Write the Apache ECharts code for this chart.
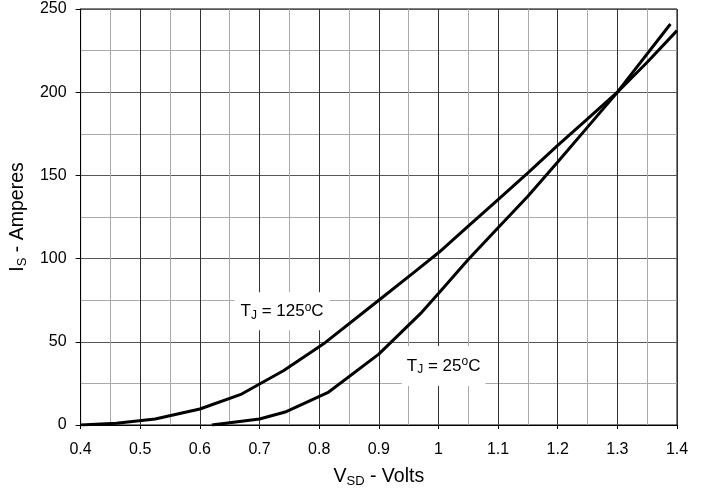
<!DOCTYPE html>
<html>
<head>
<meta charset="utf-8">
<script src="https://cdn.jsdelivr.net/npm/echarts@6/dist/echarts.min.js"></script>
<style>
  html, body { margin: 0; padding: 0; background: #fff; }
  #chart { width: 709px; height: 493px; }
</style>
</head>
<body>
<div id="chart"></div>
<script>
// Source-drain diode forward characteristic: Is versus Vsd at two junction temperatures
const vsd125 = [0.4, 0.46, 0.525, 0.6, 0.67, 0.74, 0.81, 0.9, 0.96, 1.0, 1.05, 1.1, 1.15, 1.2, 1.25, 1.3, 1.35, 1.4];
const is125  = [0, 1, 3.6, 9.6, 18.6, 32.6, 49.5, 75, 92, 103.5, 119.5, 135.5, 151.5, 168, 184, 200, 218, 237];

const vsd25 = [0.62, 0.7, 0.743, 0.816, 0.9, 0.972, 1.0, 1.05, 1.1, 1.15, 1.2, 1.25, 1.3, 1.389];
const is25  = [0, 3.6, 7.8, 19.8, 42.6, 67.7, 79, 99.5, 118.5, 137.5, 158, 179, 200, 241];

const xTicks = [0.4, 0.5, 0.6, 0.7, 0.8, 0.9, 1.0, 1.1, 1.2, 1.3, 1.4];
const yTicks = [0, 50, 100, 150, 200, 250];

const FONT = '"Liberation Sans", Arial, Helvetica, sans-serif';

const pairs = (xs, ys) => xs.map((x, i) => [x, ys[i]]);

const textRich = {
  t: { fontFamily: FONT, fontSize: 17, color: '#000', lineHeight: 20, verticalAlign: 'middle' },
  s: { fontFamily: FONT, fontSize: 12, color: '#000', lineHeight: 12, verticalAlign: 'bottom' },
  p: { fontFamily: FONT, fontSize: 12, color: '#000', lineHeight: 12, verticalAlign: 'top' }
};

const nameRich = {
  a: { fontFamily: FONT, fontSize: 19.5, color: '#000', lineHeight: 22, verticalAlign: 'middle' },
  b: { fontFamily: FONT, fontSize: 13, color: '#000', lineHeight: 13, verticalAlign: 'bottom' }
};

function tempLabel(coord, text, pad) {
  return {
    symbol: 'rect',
    symbolSize: 0,
    silent: true,
    data: [{ coord: coord }],
    label: {
      show: true,
      position: 'inside',
      formatter: text,
      backgroundColor: '#fff',
      padding: pad,
      rich: textRich
    }
  };
}

const chart = echarts.init(document.getElementById('chart'), null, { renderer: 'canvas' });

chart.setOption({
  animation: false,
  backgroundColor: '#fff',
  grid: {
    left: 78, right: 32, top: 9, bottom: 67,
    show: true, borderColor: '#000', borderWidth: 1, backgroundColor: 'transparent'
  },
  xAxis: {
    type: 'value',
    min: xTicks[0],
    max: xTicks[xTicks.length - 1],
    interval: 0.1,
    name: '{a|V}{b|SD}{a| - Volts}',
    nameLocation: 'middle',
    nameGap: 41,
    nameTextStyle: { rich: nameRich },
    axisLine: { show: true, onZero: false, lineStyle: { color: '#000', width: 1 } },
    axisTick: { show: true, length: 4, lineStyle: { color: '#000' } },
    axisLabel: {
      margin: 17,
      color: '#000',
      fontFamily: FONT,
      fontSize: 16,
      formatter: v => String(Math.round(v * 10) / 10)
    },
    splitLine: { show: true, lineStyle: { color: '#333', width: 1 } },
    minorTick: { show: false, splitNumber: 2 },
    minorSplitLine: { show: true, lineStyle: { color: '#aaa', width: 1 } }
  },
  yAxis: {
    type: 'value',
    min: yTicks[0],
    max: yTicks[yTicks.length - 1],
    interval: 50,
    name: '{a|I}{b|S}{a| - Amperes}',
    nameLocation: 'middle',
    nameGap: 49,
    nameTextStyle: { rich: nameRich },
    axisLine: { show: true, lineStyle: { color: '#000', width: 1 } },
    axisTick: { show: true, length: 5, lineStyle: { color: '#000' } },
    axisLabel: { margin: 14, color: '#000', fontFamily: FONT, fontSize: 16 },
    splitLine: { show: true, lineStyle: { color: '#555', width: 1 } },
    minorTick: { show: false, splitNumber: 2 },
    minorSplitLine: { show: true, lineStyle: { color: '#aaa', width: 1 } }
  },
  series: [
    {
      name: 'TJ = 125°C',
      type: 'line',
      data: pairs(vsd125, is125),
      showSymbol: false,
      smooth: false,
      lineStyle: { color: '#000', width: 3 },
      z: 5,
      markPoint: tempLabel([0.7378, 68.3], '{t|T}{s|J}{t| = 125}{p|o}{t|C}', [9, 6])
    },
    {
      name: 'TJ = 25°C',
      type: 'line',
      data: pairs(vsd25, is25),
      showSymbol: false,
      smooth: false,
      lineStyle: { color: '#000', width: 3 },
      z: 5,
      markPoint: tempLabel([1.0087, 35.4], '{t|T}{s|J}{t| = 25}{p|o}{t|C}', [10, 5])
    }
  ]
});
</script>
</body>
</html>
